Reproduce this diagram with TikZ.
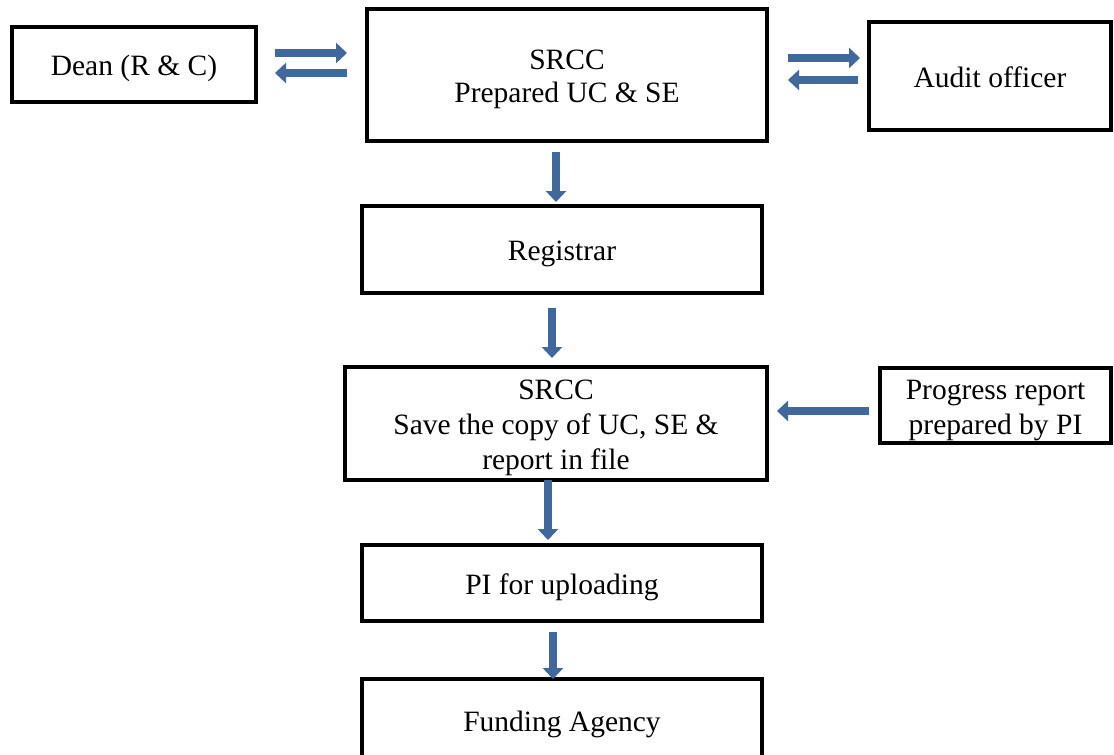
\documentclass[tikz,border=0pt]{standalone}
\usepackage{fontspec}
\setmainfont{Liberation Serif}
\usetikzlibrary{arrows.meta}
\definecolor{arrblue}{HTML}{41689C}
\newcommand{\tstrut}{\rule{0pt}{29pt}}
\newcommand{\bstrut}{\rule[-7pt]{0pt}{0pt}}
\tikzset{
  box/.style={draw=black, line width=4pt, fill=white, inner sep=0pt, outer sep=0pt,
    align=center, font=\fontsize{29.5}{35}\selectfont},
  barrow/.style={draw=arrblue, line width=8pt, -{Triangle[width=20pt,length=11pt]}},
}
\begin{document}
\begin{tikzpicture}[x=1pt,y=-1pt]
\clip (0,0) rectangle (1114,755);
\fill[white] (0,0) rectangle (1114,755);

\node[box, minimum width=244, minimum height=75] (dean) at (134,64.5) {\tstrut Dean (R \& C)\bstrut};
\node[box, minimum width=400, minimum height=132, font=\fontsize{29.5}{33}\selectfont] (srcc1) at (567,75) {\tstrut SRCC\\Prepared UC \& SE\bstrut};
\node[box, minimum width=242, minimum height=108] (audit) at (990,76) {\tstrut Audit officer\bstrut};
\node[box, minimum width=400, minimum height=87] (reg) at (562,249.5) {\tstrut Registrar\bstrut};
\node[box, minimum width=422, minimum height=113] (save) at (556,423.5) {\tstrut SRCC\\Save the copy of UC, SE \&\\report in file\bstrut};
\node[box, minimum width=231, minimum height=75] (prog) at (995.5,405.5) {\tstrut Progress report\\prepared by PI\bstrut};
\node[box, minimum width=400, minimum height=76] (pi) at (562,583) {\tstrut PI for uploading\bstrut};
\node[box, minimum width=400, minimum height=82] (fund) at (562,720) {\tstrut Funding Agency\bstrut};

\coordinate (yA) at (0,53);
\coordinate (yB) at (0,73);
\coordinate (yC) at (0,58);
\coordinate (yD) at (0,80);
\coordinate (yE) at (0,411);
\coordinate (x1) at (556,0);
\coordinate (x2) at (552,0);
\coordinate (x3) at (548,0);
\coordinate (x4) at (553,0);

\draw[barrow, shorten <=19pt, shorten >=20pt] (dean.east |- yA) -- (srcc1.west |- yA);
\draw[barrow, shorten <=20pt, shorten >=19pt] (srcc1.west |- yB) -- (dean.east |- yB);
\draw[barrow, shorten <=21pt, shorten >=9pt] (srcc1.east |- yC) -- (audit.west |- yC);
\draw[barrow, shorten <=11pt, shorten >=21pt] (audit.west |- yD) -- (srcc1.east |- yD);

\draw[barrow, shorten <=11pt, shorten >=4pt] (srcc1.south -| x1) -- (reg.north -| x1);
\draw[barrow, shorten <=15pt, shorten >=9pt] (reg.south -| x2) -- (save.north -| x2);
\draw[barrow, shorten <=0pt, shorten >=5pt] (save.south -| x3) -- (pi.north -| x3);
\draw[barrow, shorten <=11pt, shorten >=0pt] (pi.south -| x4) -- (fund.north -| x4);
\draw[barrow, shorten <=11pt, shorten >=10pt] (prog.west |- yE) -- (save.east |- yE);
\end{tikzpicture}
\end{document}
